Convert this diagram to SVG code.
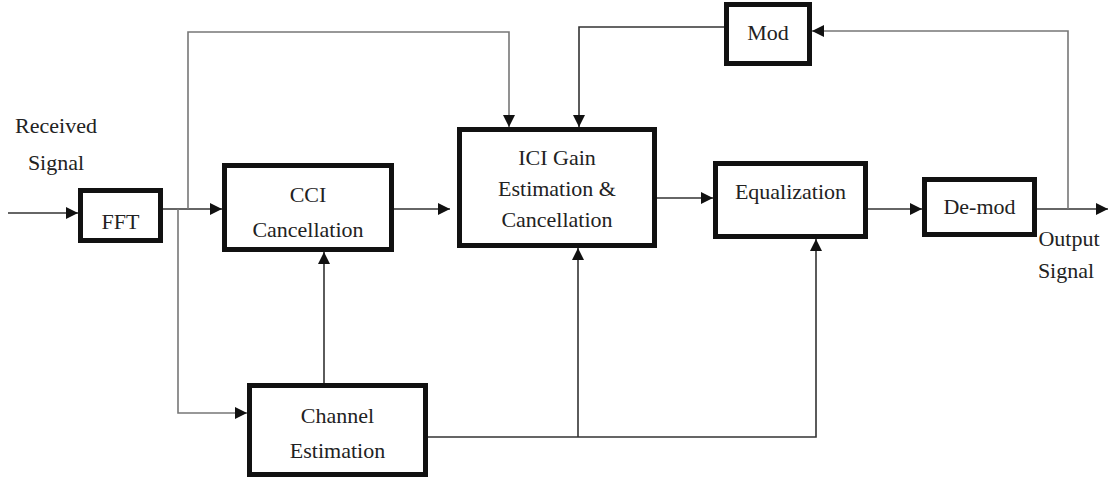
<svg xmlns="http://www.w3.org/2000/svg" width="1110" height="482" viewBox="0 0 1110 482">
<defs>
<marker id="ah" markerUnits="userSpaceOnUse" markerWidth="13" markerHeight="12" refX="12" refY="6" orient="auto">
<path d="M0,0 L12,6 L0,12 z" fill="#111"/>
</marker>
<style>
.box{fill:#fff;stroke:#111;stroke-width:5}
.t{font-family:'Liberation Serif','Times New Roman',serif;font-size:22px;fill:#222;text-anchor:middle}
.c{fill:none;stroke:#333;stroke-width:1.6}
.g{fill:none;stroke:#777;stroke-width:1.6}
</style>
</defs>
<rect width="1110" height="482" fill="#fff"/>
<g id="connectors">
<path class="c" d="M8,213 H78" marker-end="url(#ah)"/>
<path class="c" d="M163,209 H222" marker-end="url(#ah)"/>
<path class="g" d="M188,209 V32 H509 V127" marker-end="url(#ah)"/>
<path class="g" d="M178,209 V413 H247" marker-end="url(#ah)"/>
<path class="c" d="M394,209 H450" marker-end="url(#ah)"/>
<path class="c" d="M324,383 V252" marker-end="url(#ah)"/>
<path class="c" d="M428,437 H816 V239" marker-end="url(#ah)"/>
<path class="c" d="M578,437 V248" marker-end="url(#ah)"/>
<path class="c" d="M655,198 H713" marker-end="url(#ah)"/>
<path class="c" d="M868,209 H922" marker-end="url(#ah)"/>
<path class="c" d="M1037,209 H1108" marker-end="url(#ah)"/>
<path class="g" d="M1068,209 V31 H812" marker-end="url(#ah)"/>
<path class="c" d="M724,27 H579 V127" marker-end="url(#ah)"/>
</g>
<g id="received-label">
<text class="t" x="56" y="133">Received</text>
<text class="t" x="56" y="170">Signal</text>
</g>
<g id="output-label">
<text class="t" x="1069" y="246">Output</text>
<text class="t" x="1066" y="278">Signal</text>
</g>
<g id="fft">
<rect class="box" x="80.5" y="190.5" width="80" height="50"/>
<text class="t" x="120.5" y="229">FFT</text>
</g>
<g id="cci">
<rect class="box" x="224.5" y="165.5" width="167" height="84"/>
<text class="t" x="308" y="202">CCI</text>
<text class="t" x="308" y="237">Cancellation</text>
</g>
<g id="ici">
<rect class="box" x="459.5" y="129.5" width="195" height="116"/>
<text class="t" x="557" y="165">ICI Gain</text>
<text class="t" x="557" y="196">Estimation &amp;</text>
<text class="t" x="557" y="227">Cancellation</text>
</g>
<g id="equalization">
<rect class="box" x="715.5" y="163.5" width="150" height="73"/>
<text class="t" x="790.5" y="199">Equalization</text>
</g>
<g id="demod">
<rect class="box" x="924.5" y="179.5" width="110" height="55"/>
<text class="t" x="979.5" y="214">De-mod</text>
</g>
<g id="mod">
<rect class="box" x="726.5" y="4.5" width="83" height="59"/>
<text class="t" x="768" y="40">Mod</text>
</g>
<g id="channel-estimation">
<rect class="box" x="249.5" y="385.5" width="176" height="89"/>
<text class="t" x="337.5" y="423">Channel</text>
<text class="t" x="337.5" y="458">Estimation</text>
</g>
</svg>
